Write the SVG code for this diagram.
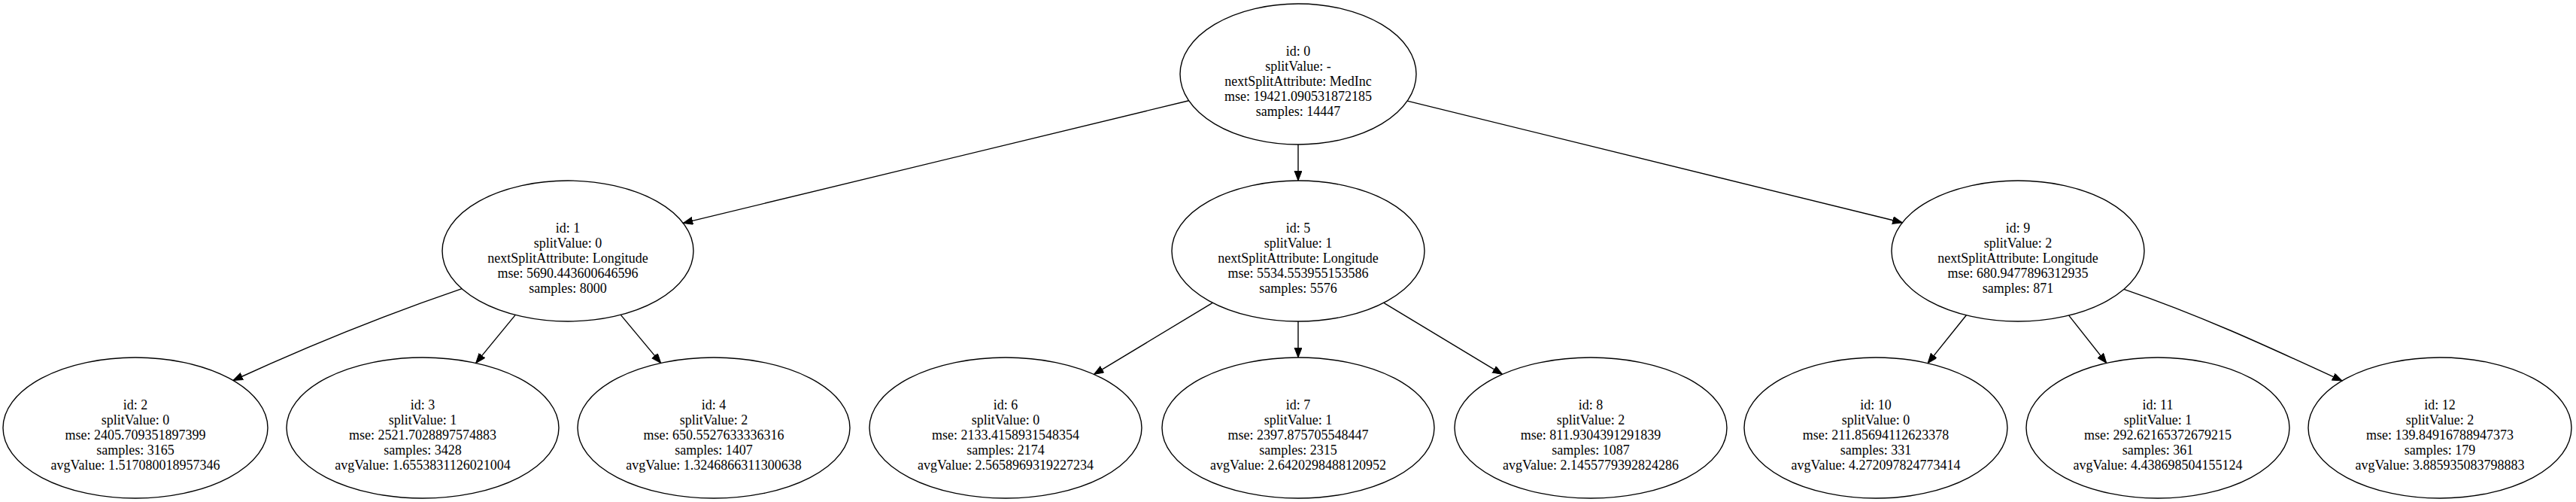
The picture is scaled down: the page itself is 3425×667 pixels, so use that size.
<svg xmlns="http://www.w3.org/2000/svg" width="3425" height="667" viewBox="0 0 3425 667">
<style>
.n ellipse{fill:none;stroke:#000;stroke-width:1.4}
.n text{font-family:"Liberation Serif","Times New Roman",serif;font-size:18px;text-anchor:middle;fill:#000}
.e path{fill:none;stroke:#000;stroke-width:1.4;marker-end:url(#ah)}
</style>
<defs>
<marker id="ah" markerUnits="userSpaceOnUse" markerWidth="14" markerHeight="11" refX="13" refY="5" orient="auto">
<path d="M0,0 L13,5 L0,10 z" fill="#000" stroke="#000" stroke-width="1"/>
</marker>
</defs>
<rect width="3425" height="667" fill="#fff"/>
<g id="edges" class="e">
<path d="M1580.6,133.7 L908.3,296.4"/>
<path d="M1726,192 L1726,240"/>
<path d="M1871.1,134.1 L2529.3,295.8"/>
<path d="M614,383.6 C513,418 411,459 310,505.5"/>
<path d="M685.3,418.4 L632.7,482.4"/>
<path d="M825.3,418.4 L878.7,482.4"/>
<path d="M1612.2,402.3 L1454.6,497.4"/>
<path d="M1726,427 L1726,475"/>
<path d="M1839.8,402.3 L1997.4,497.4"/>
<path d="M2614.4,418.8 L2563.1,482.6"/>
<path d="M2750.7,419.1 L2800.8,482.4"/>
<path d="M2824,384.3 C2925,418.7 3013,459.5 3114,506"/>
</g>
<g id="node0" class="n"><ellipse cx="1726" cy="98.5" rx="157" ry="93.5"/>
<text x="1726" y="73.5">id: 0</text><text x="1726" y="93.5">splitValue: -</text><text x="1726" y="113.5">nextSplitAttribute: MedInc</text><text x="1726" y="133.5">mse: 19421.090531872185</text><text x="1726" y="153.5">samples: 14447</text></g>
<g id="node1" class="n"><ellipse cx="755" cy="333.5" rx="167" ry="93.5"/>
<text x="755" y="308.5">id: 1</text><text x="755" y="328.5">splitValue: 0</text><text x="755" y="348.5">nextSplitAttribute: Longitude</text><text x="755" y="368.5">mse: 5690.443600646596</text><text x="755" y="388.5">samples: 8000</text></g>
<g id="node5" class="n"><ellipse cx="1726" cy="333.5" rx="168" ry="93.5"/>
<text x="1726" y="308.5">id: 5</text><text x="1726" y="328.5">splitValue: 1</text><text x="1726" y="348.5">nextSplitAttribute: Longitude</text><text x="1726" y="368.5">mse: 5534.553955153586</text><text x="1726" y="388.5">samples: 5576</text></g>
<g id="node9" class="n"><ellipse cx="2683" cy="333.5" rx="168" ry="93.5"/>
<text x="2683" y="308.5">id: 9</text><text x="2683" y="328.5">splitValue: 2</text><text x="2683" y="348.5">nextSplitAttribute: Longitude</text><text x="2683" y="368.5">mse: 680.9477896312935</text><text x="2683" y="388.5">samples: 871</text></g>
<g id="node2" class="n"><ellipse cx="180" cy="568.5" rx="176" ry="93.5"/>
<text x="180" y="543.5">id: 2</text><text x="180" y="563.5">splitValue: 0</text><text x="180" y="583.5">mse: 2405.709351897399</text><text x="180" y="603.5">samples: 3165</text><text x="180" y="623.5">avgValue: 1.517080018957346</text></g>
<g id="node3" class="n"><ellipse cx="562" cy="568.5" rx="181" ry="93.5"/>
<text x="562" y="543.5">id: 3</text><text x="562" y="563.5">splitValue: 1</text><text x="562" y="583.5">mse: 2521.7028897574883</text><text x="562" y="603.5">samples: 3428</text><text x="562" y="623.5">avgValue: 1.6553831126021004</text></g>
<g id="node4" class="n"><ellipse cx="949" cy="568.5" rx="181" ry="93.5"/>
<text x="949" y="543.5">id: 4</text><text x="949" y="563.5">splitValue: 2</text><text x="949" y="583.5">mse: 650.5527633336316</text><text x="949" y="603.5">samples: 1407</text><text x="949" y="623.5">avgValue: 1.3246866311300638</text></g>
<g id="node6" class="n"><ellipse cx="1337" cy="568.5" rx="181" ry="93.5"/>
<text x="1337" y="543.5">id: 6</text><text x="1337" y="563.5">splitValue: 0</text><text x="1337" y="583.5">mse: 2133.4158931548354</text><text x="1337" y="603.5">samples: 2174</text><text x="1337" y="623.5">avgValue: 2.5658969319227234</text></g>
<g id="node7" class="n"><ellipse cx="1726" cy="568.5" rx="181" ry="93.5"/>
<text x="1726" y="543.5">id: 7</text><text x="1726" y="563.5">splitValue: 1</text><text x="1726" y="583.5">mse: 2397.875705548447</text><text x="1726" y="603.5">samples: 2315</text><text x="1726" y="623.5">avgValue: 2.6420298488120952</text></g>
<g id="node8" class="n"><ellipse cx="2115" cy="568.5" rx="181" ry="93.5"/>
<text x="2115" y="543.5">id: 8</text><text x="2115" y="563.5">splitValue: 2</text><text x="2115" y="583.5">mse: 811.9304391291839</text><text x="2115" y="603.5">samples: 1087</text><text x="2115" y="623.5">avgValue: 2.1455779392824286</text></g>
<g id="node10" class="n"><ellipse cx="2494" cy="568.5" rx="175" ry="93.5"/>
<text x="2494" y="543.5">id: 10</text><text x="2494" y="563.5">splitValue: 0</text><text x="2494" y="583.5">mse: 211.85694112623378</text><text x="2494" y="603.5">samples: 331</text><text x="2494" y="623.5">avgValue: 4.272097824773414</text></g>
<g id="node11" class="n"><ellipse cx="2869" cy="568.5" rx="175" ry="93.5"/>
<text x="2869" y="543.5">id: 11</text><text x="2869" y="563.5">splitValue: 1</text><text x="2869" y="583.5">mse: 292.62165372679215</text><text x="2869" y="603.5">samples: 361</text><text x="2869" y="623.5">avgValue: 4.438698504155124</text></g>
<g id="node12" class="n"><ellipse cx="3244" cy="568.5" rx="175" ry="93.5"/>
<text x="3244" y="543.5">id: 12</text><text x="3244" y="563.5">splitValue: 2</text><text x="3244" y="583.5">mse: 139.84916788947373</text><text x="3244" y="603.5">samples: 179</text><text x="3244" y="623.5">avgValue: 3.885935083798883</text></g>
</svg>
